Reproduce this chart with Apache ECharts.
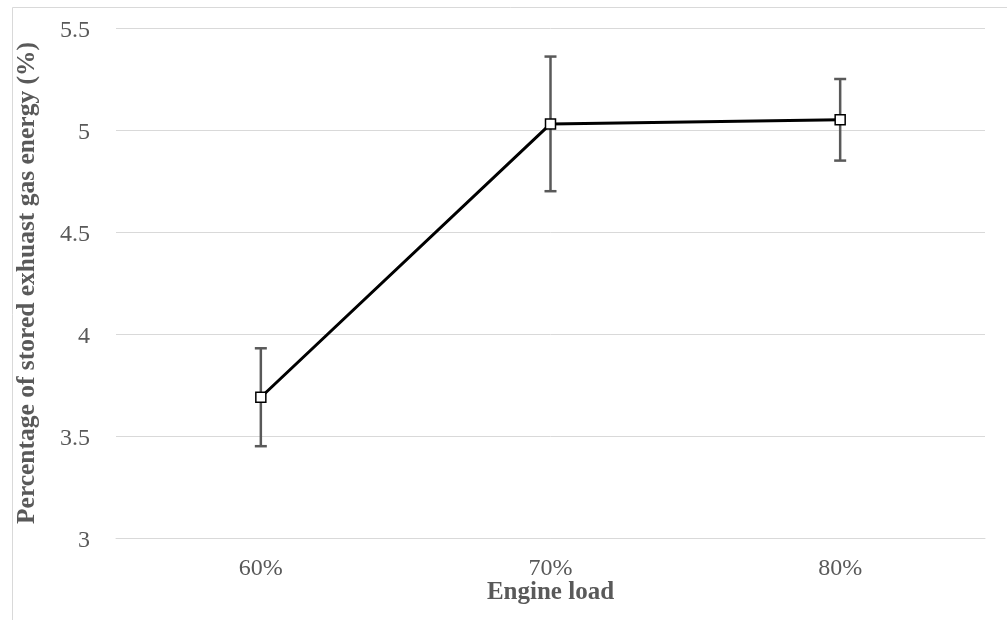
<!DOCTYPE html>
<html>
<head>
<meta charset="utf-8">
<script src="https://cdn.jsdelivr.net/npm/echarts@6/dist/echarts.min.js"></script>
<style>
  html, body { margin: 0; padding: 0; background: #fff; }
  #chart { width: 1007px; height: 620px; }
</style>
</head>
<body>
<div id="chart"></div>
<script>
// Engine load categories and mean stored exhaust-gas energy share (%)
const loads = ['60%', '70%', '80%'];
const storedEnergy = [3.69, 5.03, 5.05];
// Symmetric error (±) for each load
const errors = [0.24, 0.33, 0.20];

const chart = echarts.init(document.getElementById('chart'));
const serif = '"Liberation Serif", "DejaVu Serif", serif';

const errorData = loads.map((c, i) => [i, storedEnergy[i] - errors[i], storedEnergy[i] + errors[i]]);

chart.setOption({
  animation: false,
  backgroundColor: '#ffffff',
  graphic: [{
    type: 'rect',
    left: 10, top: 5,
    shape: { width: 1020, height: 640 },
    style: { fill: 'none', stroke: '#d9d9d9', lineWidth: 1 },
    silent: true
  }],
  grid: { left: 116, right: 22, top: 28, bottom: 82 },
  xAxis: {
    type: 'category',
    data: loads,
    boundaryGap: true,
    name: 'Engine load',
    nameLocation: 'middle',
    nameGap: 42,
    nameMoveOverlap: false,
    nameTextStyle: { fontFamily: serif, fontSize: 25, fontWeight: 'bold', color: '#595959' },
    axisLine: { show: true, lineStyle: { color: '#d9d9d9', width: 1 } },
    axisTick: { show: false },
    axisLabel: { fontFamily: serif, fontSize: 24, color: '#595959', margin: 19 }
  },
  yAxis: {
    type: 'value',
    min: 3, max: 5.5, interval: 0.5,
    name: 'Percentage of stored exhuast gas energy (%)',
    nameLocation: 'middle',
    nameGap: 76,
    nameMoveOverlap: false,
    nameTextStyle: { fontFamily: serif, fontSize: 25.5, fontWeight: 'bold', color: '#595959' },
    axisLine: { show: false },
    axisTick: { show: false },
    splitLine: { lineStyle: { color: '#d9d9d9', width: 1 } },
    axisLabel: { fontFamily: serif, fontSize: 24, color: '#595959', margin: 26, lineHeight: 30, verticalAlign: 'top', padding: [-12, 0, 0, 0] }
  },
  series: [
    {
      type: 'custom',
      z: 2,
      data: errorData,
      renderItem: function (params, api) {
        const x = api.value(0);
        const lo = api.coord([x, api.value(1)]);
        const hi = api.coord([x, api.value(2)]);
        const cap = 6;
        const style = { stroke: '#595959', lineWidth: 2.5 };
        return {
          type: 'group',
          children: [
            { type: 'line', shape: { x1: hi[0], y1: hi[1], x2: lo[0], y2: lo[1] }, style },
            { type: 'line', shape: { x1: hi[0] - cap, y1: hi[1], x2: hi[0] + cap, y2: hi[1] }, style },
            { type: 'line', shape: { x1: lo[0] - cap, y1: lo[1], x2: lo[0] + cap, y2: lo[1] }, style }
          ]
        };
      }
    },
    {
      type: 'line',
      z: 3,
      data: storedEnergy,
      symbol: 'rect',
      symbolSize: 10,
      lineStyle: { color: '#000000', width: 3 },
      itemStyle: { color: '#ffffff', borderColor: '#000000', borderWidth: 1.5 }
    }
  ]
});
</script>
</body>
</html>
